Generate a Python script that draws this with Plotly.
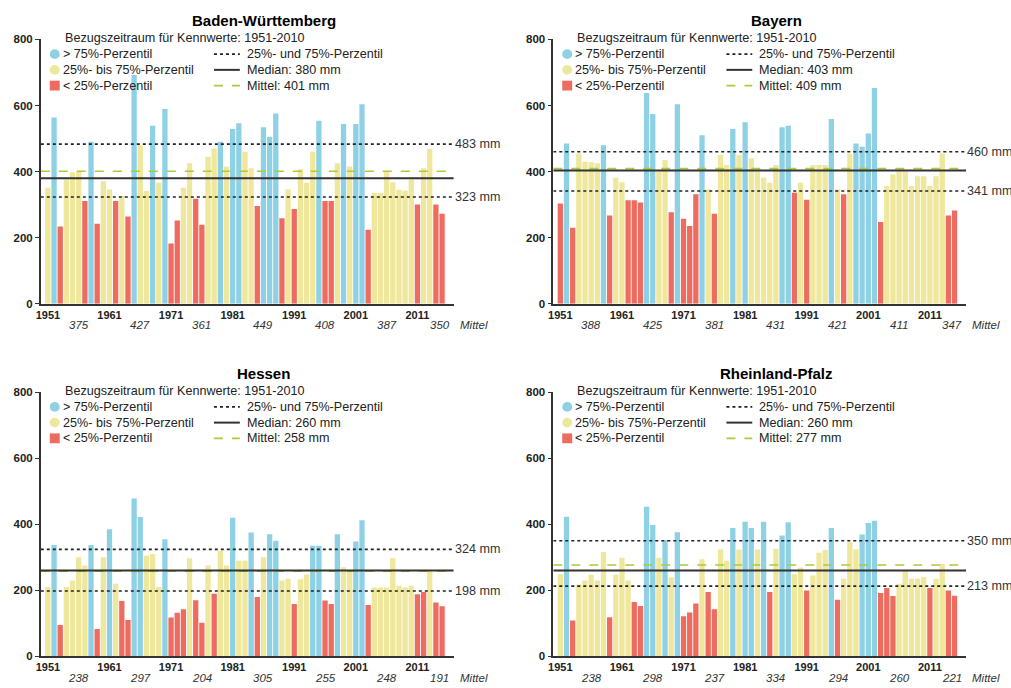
import plotly.graph_objects as go

W, H = 1011, 688
FONT = "Liberation Sans, Arial, sans-serif"

years = list(range(1951, 2016))

# ---- data (mm) ----
bw_values = [351, 564, 234, 376, 398, 400, 311, 490, 242, 371,
             346, 311, 326, 264, 692, 480, 341, 539, 366, 589,
             182, 252, 351, 425, 318, 239, 445, 470, 490, 415,
             529, 546, 460, 410, 296, 534, 505, 576, 259, 346,
             287, 407, 366, 460, 554, 311, 311, 425, 544, 415,
             544, 604, 224, 336, 335, 402, 368, 345, 342, 376,
             300, 410, 468, 300, 272]
by_values = [303, 485, 230, 455, 430, 428, 425, 480, 267, 381,
             368, 313, 313, 306, 638, 574, 400, 435, 277, 604,
             257, 235, 331, 510, 346, 272, 450, 420, 529, 450,
             549, 440, 400, 381, 366, 420, 534, 539, 336, 366,
             315, 420, 420, 420, 559, 346, 331, 455, 485, 475,
             515, 653, 247, 356, 391, 400, 400, 356, 386, 386,
             356, 386, 455, 267, 282]
he_values = [210, 337, 95, 210, 230, 300, 275, 337, 83, 300,
             385, 220, 168, 110, 478, 422, 305, 310, 210, 355,
             118, 132, 143, 297, 170, 102, 275, 190, 320, 275,
             420, 290, 290, 375, 180, 300, 370, 350, 230, 235,
             159, 234, 248, 335, 335, 169, 159, 370, 270, 260,
             348, 412, 156, 209, 209, 209, 298, 214, 209, 214,
             188, 195, 258, 163, 152]
rp_values = [249, 423, 109, 218, 230, 247, 230, 316, 119, 248,
             299, 230, 165, 153, 453, 398, 299, 352, 240, 376,
             122, 133, 160, 294, 195, 143, 324, 290, 389, 324,
             408, 389, 324, 408, 195, 326, 366, 406, 249, 269,
             200, 245, 314, 322, 389, 172, 235, 346, 324, 369,
             404, 411, 192, 207, 183, 220, 259, 235, 235, 240,
             207, 235, 280, 200, 184]

regions = ["Baden-Württemberg", "Bayern", "Hessen", "Rheinland-Pfalz"]
p25 = [323, 341, 198, 213]
p75 = [483, 460, 324, 350]
medians = [380, 403, 260, 260]
means = [401, 409, 258, 277]
decade_means = [
    [375, 427, 361, 449, 408, 387, 350],
    [388, 425, 381, 431, 421, 411, 347],
    [238, 297, 204, 305, 255, 248, 191],
    [238, 298, 237, 334, 294, 260, 221],
]
decade_pos = [1956, 1966, 1976, 1986, 1996, 2006, 2014.6]
year_ticks = [1951, 1961, 1971, 1981, 1991, 2001, 2011]
all_values = [bw_values, by_values, he_values, rp_values]

BLUE = "#8ed1e5"
YELLOW = "#efe79c"
RED = "#ee6b5f"
GREEN = "#a9cc3c"
INK = "#222222"

XR = [1949.85, 2016.9]
panel_px = [(36, 0), (551, 0), (36, 359), (551, 359)]  # axis left px, vertical offset
AXW = 415
TXT = 12.6

def fx(p):
    return p / W

def fy(p):
    return 1 - p / H

fig = go.Figure()
layout = dict(width=W, height=H, margin=dict(l=0, r=0, t=0, b=0),
              paper_bgcolor="white", plot_bgcolor="rgba(0,0,0,0)",
              showlegend=False, bargap=0.12,
              font=dict(family=FONT, color=INK, size=12))
shapes, annotations = [], []

for k in range(4):
    x0px, off = panel_px[k]
    sfx = "" if k == 0 else str(k + 1)
    xa, ya = "x" + sfx, "y" + sfx
    vals = all_values[k]
    colors = [BLUE if v > p75[k] else (RED if v < p25[k] else YELLOW) for v in vals]
    fig.add_trace(go.Bar(x=years, y=vals, marker=dict(color=colors, line=dict(width=0)),
                         width=0.86, xaxis=xa, yaxis=ya, hoverinfo="x+y"))
    layout["xaxis" + sfx] = dict(
        domain=[fx(x0px), fx(x0px + AXW)], range=XR, anchor=ya,
        tickvals=year_ticks, ticktext=[str(t) for t in year_ticks],
        tickfont=dict(family=FONT, size=11, color=INK, weight="bold"),
        showline=True, linecolor="#333", linewidth=1.5, ticks="",
        showgrid=False, zeroline=False, fixedrange=True)
    layout["yaxis" + sfx] = dict(
        domain=[fy(303 + off), fy(34 + off)], range=[0, 800], anchor=xa,
        tickvals=[0, 200, 400, 600, 800],
        tickfont=dict(family=FONT, size=11.5, color=INK, weight="bold"),
        showline=True, linecolor="#333", linewidth=1.5, ticks="outside",
        ticklen=4, tickcolor="#333", showgrid=False, zeroline=False, fixedrange=True)

    # reference lines
    for val, dash, col, wd in [(means[k], "dash", GREEN, 1.6),
                               (medians[k], "solid", "#333333", 2.0),
                               (p25[k], "dot", INK, 1.6),
                               (p75[k], "dot", INK, 1.6)]:
        shapes.append(dict(type="line", xref=xa, yref=ya, x0=XR[0], x1=XR[1],
                           y0=val, y1=val, layer="above",
                           line=dict(color=col, width=wd, dash=dash)))
    for val in (p75[k], p25[k]):
        annotations.append(dict(xref=xa, yref=ya, x=XR[1], y=val, text=f"{val} mm",
                                xanchor="left", yanchor="middle", xshift=-1, showarrow=False,
                                font=dict(size=TXT, color="#333")))

    # title
    annotations.append(dict(xref="paper", yref="paper", x=fx(x0px + 224), y=fy(15 + off),
                            text=f"<b>{regions[k]}</b>", showarrow=False,
                            xanchor="center", yanchor="middle",
                            font=dict(size=15, color="#000")))
    annotations.append(dict(xref="paper", yref="paper", x=fx(x0px + 22), y=fy(33 + off),
                            text="Bezugszeitraum für Kennwerte: 1951-2010", showarrow=False,
                            xanchor="left", yanchor="middle", font=dict(size=TXT, color=INK)))
    rows = [49, 65, 81]
    left_items = [("> 75%-Perzentil", BLUE, "circle"),
                  ("25%- bis 75%-Perzentil", YELLOW, "circle"),
                  ("< 25%-Perzentil", RED, "rect")]
    for (txt, col, shp), r in zip(left_items, rows):
        shapes.append(dict(type=shp, xref="paper", yref="paper",
                           x0=fx(x0px + 9), x1=fx(x0px + 19),
                           y0=fy(r + off + 5), y1=fy(r + off - 5),
                           fillcolor=col, line=dict(width=0)))
        annotations.append(dict(xref="paper", yref="paper", x=fx(x0px + 20), y=fy(r + off),
                                text=txt, showarrow=False, xanchor="left", yanchor="middle",
                                font=dict(size=TXT, color=INK)))
    right_items = [("25%- und 75%-Perzentil", "dot", INK, 1.6),
                   (f"Median: {medians[k]} mm", "solid", "#333333", 2.0),
                   (f"Mittel: {means[k]} mm", "dash", GREEN, 1.6)]
    for (txt, dash, col, wd), r in zip(right_items, rows):
        shapes.append(dict(type="line", xref="paper", yref="paper",
                           x0=fx(x0px + 174), x1=fx(x0px + 200),
                           y0=fy(r + off), y1=fy(r + off),
                           line=dict(color=col, width=wd, dash=dash)))
        annotations.append(dict(xref="paper", yref="paper", x=fx(x0px + 205), y=fy(r + off),
                                text=txt, showarrow=False, xanchor="left", yanchor="middle",
                                font=dict(size=TXT, color=INK)))
    # decade means
    for pos, m in zip(decade_pos, decade_means[k]):
        annotations.append(dict(xref=xa, yref="paper", x=pos, y=fy(325 + off),
                                text=f"<i>{m}</i>", showarrow=False,
                                xanchor="center", yanchor="middle",
                                font=dict(size=11.5, color="#333")))
    annotations.append(dict(xref=xa, yref="paper", x=XR[1], y=fy(325 + off),
                            text="<i>Mittel</i>", showarrow=False, xshift=4,
                            xanchor="left", yanchor="middle",
                            font=dict(size=11.5, color="#333")))

layout["shapes"] = shapes
layout["annotations"] = annotations
fig.update_layout(**layout)
fig.write_html("out.html", config={"displayModeBar": False},
               post_script="document.body.style.margin='0';document.body.style.overflow='hidden';")
